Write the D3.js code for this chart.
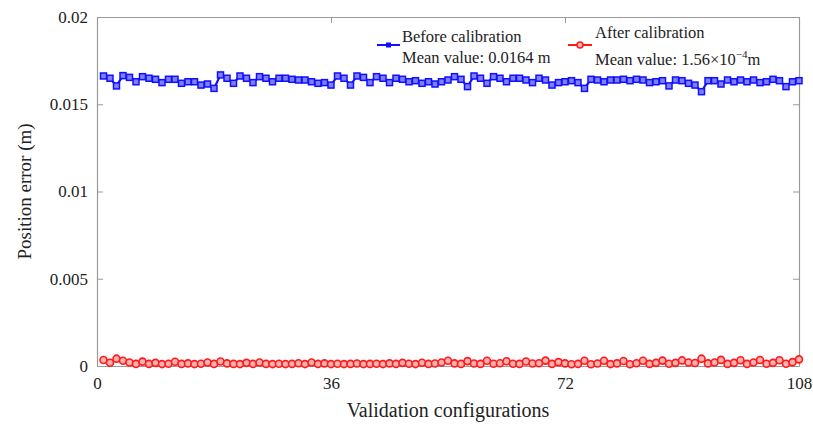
<!DOCTYPE html>
<html>
<head>
<meta charset="utf-8">
<script src="https://cdn.jsdelivr.net/npm/d3@7"></script>
<style>
  body { margin: 0; background: #fff; }
  svg { font-family: "Liberation Serif", "Times New Roman", serif; }
</style>
</head>
<body>
<svg></svg>
<script>
// Data
const beforeCal = [
  0.01662, 0.01649, 0.01605, 0.01664, 0.01654, 0.01629, 0.01658, 0.01649, 0.01643, 0.01624,
  0.01643, 0.01643, 0.01620, 0.01629, 0.01629, 0.01610, 0.01616, 0.01591, 0.01668, 0.01649,
  0.01620, 0.01662, 0.01649, 0.01624, 0.01658, 0.01649, 0.01629, 0.01649, 0.01649, 0.01643,
  0.01639, 0.01639, 0.01629, 0.01620, 0.01624, 0.01610, 0.01662, 0.01649, 0.01610, 0.01662,
  0.01654, 0.01624, 0.01658, 0.01649, 0.01624, 0.01649, 0.01643, 0.01629, 0.01635, 0.01620,
  0.01629, 0.01616, 0.01629, 0.01639, 0.01658, 0.01643, 0.01601, 0.01662, 0.01649, 0.01620,
  0.01658, 0.01649, 0.01629, 0.01649, 0.01649, 0.01639, 0.01624, 0.01649, 0.01639, 0.01610,
  0.01624, 0.01629, 0.01635, 0.01624, 0.01591, 0.01643, 0.01639, 0.01629, 0.01639, 0.01639,
  0.01643, 0.01635, 0.01643, 0.01639, 0.01624, 0.01629, 0.01635, 0.01605, 0.01639, 0.01635,
  0.01620, 0.01610, 0.01572, 0.01635, 0.01635, 0.01616, 0.01639, 0.01629, 0.01639, 0.01629,
  0.01639, 0.01624, 0.01629, 0.01643, 0.01635, 0.01601, 0.01629, 0.01635
];

const afterCal = [
  0.00034, 0.00019, 0.00042, 0.00030, 0.00020, 0.00012, 0.00025, 0.00012, 0.00018, 0.00011,
  0.00013, 0.00024, 0.00012, 0.00015, 0.00011, 0.00013, 0.00020, 0.00012, 0.00026, 0.00015,
  0.00012, 0.00011, 0.00018, 0.00012, 0.00020, 0.00012, 0.00011, 0.00013, 0.00011, 0.00012,
  0.00016, 0.00011, 0.00020, 0.00012, 0.00015, 0.00011, 0.00013, 0.00011, 0.00012, 0.00014,
  0.00011, 0.00012, 0.00013, 0.00011, 0.00015, 0.00012, 0.00018, 0.00013, 0.00011, 0.00019,
  0.00012, 0.00014, 0.00020, 0.00030, 0.00015, 0.00012, 0.00028, 0.00014, 0.00012, 0.00030,
  0.00013, 0.00016, 0.00027, 0.00013, 0.00012, 0.00026, 0.00014, 0.00016, 0.00031, 0.00012,
  0.00022, 0.00015, 0.00010, 0.00012, 0.00030, 0.00010, 0.00014, 0.00030, 0.00011, 0.00015,
  0.00029, 0.00010, 0.00016, 0.00030, 0.00012, 0.00018, 0.00031, 0.00013, 0.00018, 0.00032,
  0.00020, 0.00017, 0.00042, 0.00015, 0.00020, 0.00035, 0.00012, 0.00018, 0.00033, 0.00012,
  0.00020, 0.00034, 0.00013, 0.00018, 0.00033, 0.00013, 0.00022, 0.00038
];

const xTicks = [0, 36, 72, 108];
const yTicks = [0, 0.005, 0.01, 0.015, 0.02];
const yTickLabels = ["0", "0.005", "0.01", "0.015", "0.02"];

// Sizes
const W = 813, H = 428;
const margin = { l: 97, r: 14, t: 17, b: 62 };
const width = W - margin.l - margin.r;
const height = H - margin.t - margin.b;

const svg = d3.select("svg")
  .attr("width", W)
  .attr("height", H);

const g = svg.append("g")
  .attr("transform", `translate(${margin.l}, ${margin.t})`);

// Scales
const xScale = d3.scaleLinear().domain([0, 108]).range([0, width]);
const yScale = d3.scaleLinear().domain([0, 0.02]).range([height, 0]);

const axisColor = "#9a9a9a";

// Axes (MATLAB-style box, ticks inward on all four sides)
const styleAxis = sel => {
  sel.select(".domain").attr("stroke", axisColor).attr("stroke-width", 1.2);
  sel.selectAll(".tick line").attr("stroke", axisColor);
  sel.selectAll(".tick text")
    .attr("fill", "#222")
    .style("font-size", "17px")
    .style("font-family", "Liberation Serif, serif");
};

g.append("g")
  .attr("transform", `translate(0, ${height})`)
  .call(d3.axisBottom(xScale).tickValues(xTicks).tickSizeInner(-6).tickSizeOuter(0).tickPadding(11))
  .call(styleAxis);

g.append("g")
  .call(d3.axisLeft(yScale).tickValues(yTicks).tickFormat((d, i) => yTickLabels[i])
    .tickSizeInner(-6).tickSizeOuter(0).tickPadding(9))
  .call(styleAxis);

g.append("g")
  .call(d3.axisTop(xScale).tickValues(xTicks).tickFormat("").tickSizeInner(-6).tickSizeOuter(0))
  .call(styleAxis);

g.append("g")
  .attr("transform", `translate(${width}, 0)`)
  .call(d3.axisRight(yScale).tickValues(yTicks).tickFormat("").tickSizeInner(-6).tickSizeOuter(0))
  .call(styleAxis);

// Axis titles
svg.append("text")
  .attr("x", margin.l + width / 2)
  .attr("y", 417)
  .attr("text-anchor", "middle")
  .style("font-size", "20px")
  .attr("fill", "#222")
  .text("Validation configurations");

svg.append("text")
  .attr("transform", `translate(31, ${margin.t + height / 2}) rotate(-90)`)
  .attr("text-anchor", "middle")
  .style("font-size", "19px")
  .attr("fill", "#222")
  .text("Position error (m)");

// Lines
const line = d3.line()
  .x((d, i) => xScale(i + 1))
  .y(d => yScale(d));

g.append("path")
  .datum(beforeCal)
  .attr("fill", "none")
  .attr("stroke", "#1010ff")
  .attr("stroke-width", 2.2)
  .attr("d", line);

g.selectAll(".sq")
  .data(beforeCal)
  .enter()
  .append("rect")
    .attr("class", "sq")
    .attr("x", (d, i) => xScale(i + 1) - 3)
    .attr("y", d => yScale(d) - 3)
    .attr("width", 6)
    .attr("height", 6)
    .attr("fill", "#7f7fff")
    .attr("stroke", "#1010ff")
    .attr("stroke-width", 1.5);

g.append("path")
  .datum(afterCal)
  .attr("fill", "none")
  .attr("stroke", "#ff1a1a")
  .attr("stroke-width", 1.8)
  .attr("d", line);

g.selectAll(".dot")
  .data(afterCal)
  .enter()
  .append("circle")
    .attr("class", "dot")
    .attr("cx", (d, i) => xScale(i + 1))
    .attr("cy", d => yScale(d))
    .attr("r", 3.5)
    .attr("fill", "#ffb0b0")
    .attr("stroke", "#ff1a1a")
    .attr("stroke-width", 1.6);

// Legend
const leg = svg.append("g");
leg.append("line")
  .attr("x1", 377).attr("x2", 400).attr("y1", 45).attr("y2", 45)
  .attr("stroke", "#1010ff").attr("stroke-width", 2);
leg.append("rect")
  .attr("x", 386).attr("y", 42.5).attr("width", 5).attr("height", 5)
  .attr("fill", "#1010ff");
leg.append("text").attr("x", 402).attr("y", 42).style("font-size", "16.5px").attr("fill", "#222")
  .text("Before calibration");
leg.append("text").attr("x", 402).attr("y", 63).style("font-size", "16.5px").attr("fill", "#222")
  .text("Mean value: 0.0164 m");

leg.append("line")
  .attr("x1", 568).attr("x2", 592).attr("y1", 45).attr("y2", 45)
  .attr("stroke", "#ff1a1a").attr("stroke-width", 2);
leg.append("circle")
  .attr("cx", 580).attr("cy", 45).attr("r", 3)
  .attr("fill", "#ffb0b0").attr("stroke", "#ff1a1a").attr("stroke-width", 1.5);
leg.append("text").attr("x", 595).attr("y", 38).style("font-size", "16.5px").attr("fill", "#222")
  .text("After calibration");
const mv = leg.append("text").attr("x", 595).attr("y", 65).style("font-size", "16.5px").attr("fill", "#222");
mv.append("tspan").text("Mean value: 1.56\u00d710");
mv.append("tspan").attr("dy", -7).style("font-size", "11px").text("\u22124");
mv.append("tspan").attr("dy", 7).text("m");
</script>
</body>
</html>
